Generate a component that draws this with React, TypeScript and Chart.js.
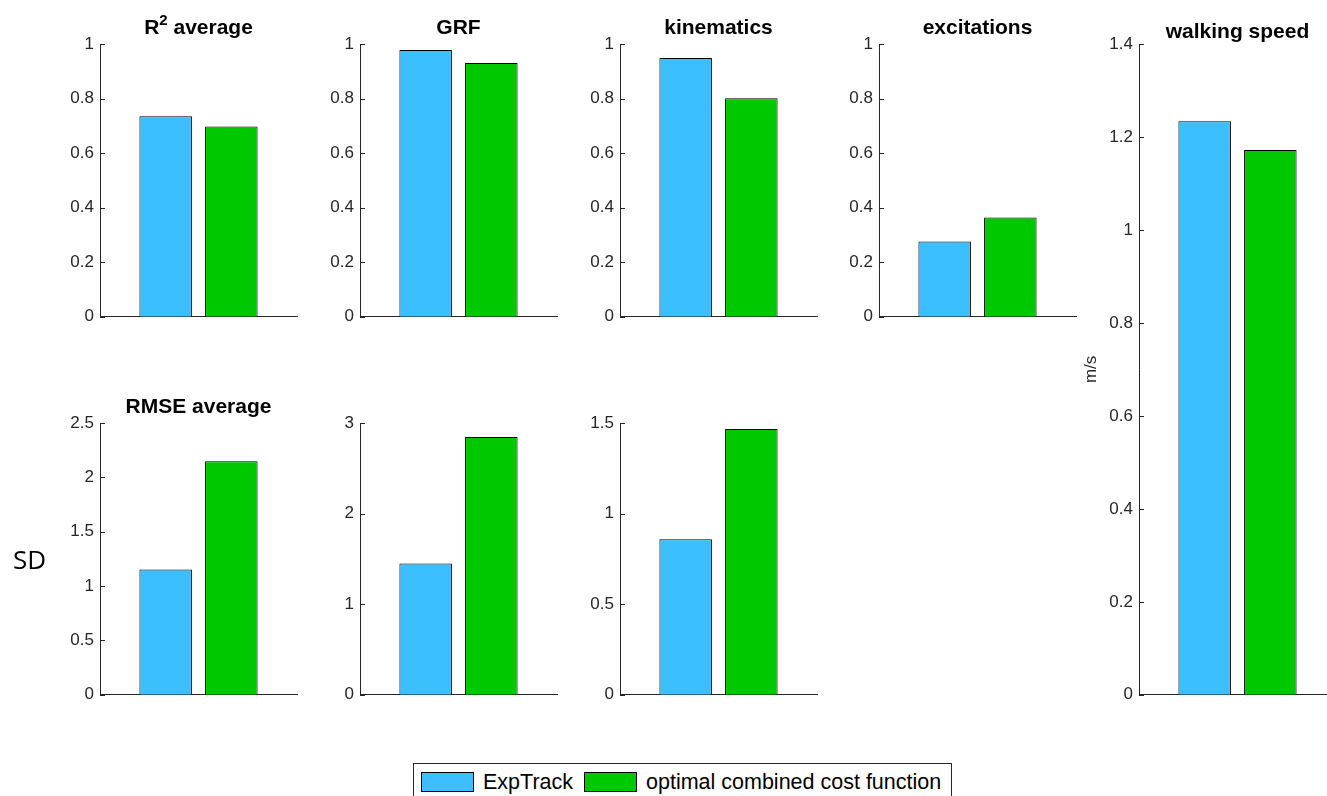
import React, { useEffect, useRef } from 'react';
import { Chart, registerables } from 'chart.js';

Chart.register(...registerables);

// ---------- data ----------
const seriesLabels = ['ExpTrack', 'optimal combined cost function'];
const barPositions = [1, 2];

const r2AverageValues = [0.735, 0.698];
const grfR2Values = [0.978, 0.93];
const kinematicsR2Values = [0.949, 0.801];
const excitationsR2Values = [0.276, 0.364];
const walkingSpeedValues = [1.234, 1.172];
const rmseAverageValues = [1.153, 2.149];
const grfRmseValues = [1.45, 2.845];
const kinematicsRmseValues = [0.858, 1.467];

const r2Ticks = [0, 0.2, 0.4, 0.6, 0.8, 1];
const speedTicks = [0, 0.2, 0.4, 0.6, 0.8, 1, 1.2, 1.4];
const rmseAverageTicks = [0, 0.5, 1, 1.5, 2, 2.5];
const grfRmseTicks = [0, 1, 2, 3];
const kinematicsRmseTicks = [0, 0.5, 1, 1.5];

// ---------- style ----------
const COLORS = ['#3bbfff', '#00c800'];
const AXIS_COLOR = '#262626';
const FONT = '"Liberation Sans", Arial, Helvetica, sans-serif';
const TICK_SIZE = 17;
const TITLE_SIZE = 21;
const AXIS_W = 60;
const PAD_TOP = 44;
const PAD_BOTTOM = 14;
const PAD_RIGHT = 2;
const PLOT_W = 197;
const EXTRA_H = 3;

type Seg = { text: string; sup?: boolean };

interface PanelProps {
  left: number;
  top: number;
  plotH: number;
  values: number[];
  ticks: number[];
  title?: Seg[];
  titleGap?: number;
  yTitle?: string;
}

function Panel(p: PanelProps) {
  const ref = useRef<HTMLCanvasElement>(null);
  const cw = AXIS_W + PLOT_W + PAD_RIGHT;
  const ch = PAD_TOP + p.plotH + PAD_BOTTOM + EXTRA_H;

  useEffect(() => {
    const titlePlugin = {
      id: 'panelTitle',
      afterDraw(chart: any) {
        if (!p.title) return;
        const ctx = chart.ctx as CanvasRenderingContext2D;
        const { left, right, top } = chart.chartArea;
        const mainFont = `bold ${TITLE_SIZE}px ${FONT}`;
        const supFont = `bold ${Math.round(TITLE_SIZE * 0.7)}px ${FONT}`;
        ctx.save();
        let total = 0;
        const widths = p.title.map((s) => {
          ctx.font = s.sup ? supFont : mainFont;
          const w = ctx.measureText(s.text).width;
          total += w;
          return w;
        });
        let x = (left + right) / 2 - total / 2;
        const baseY = top - (p.titleGap ?? 10);
        ctx.fillStyle = '#000';
        ctx.textAlign = 'left';
        ctx.textBaseline = 'alphabetic';
        p.title.forEach((s, i) => {
          ctx.font = s.sup ? supFont : mainFont;
          ctx.fillText(s.text, x, s.sup ? baseY - TITLE_SIZE * 0.42 : baseY);
          x += widths[i];
        });
        ctx.restore();
      },
    };

    const inwardTicks = {
      id: 'inwardTicks',
      afterDraw(chart: any) {
        const s = chart.scales.y;
        const ctx = chart.ctx as CanvasRenderingContext2D;
        const x0 = Math.round(chart.chartArea.left);
        ctx.save();
        ctx.strokeStyle = AXIS_COLOR;
        ctx.lineWidth = 1;
        ctx.beginPath();
        s.ticks.forEach((t: any) => {
          const y = Math.round(s.getPixelForValue(t.value)) + 0.5;
          ctx.moveTo(x0, y);
          ctx.lineTo(x0 + 5, y);
        });
        ctx.stroke();
        ctx.restore();
      },
    };

    const yMax = p.ticks[p.ticks.length - 1];
    const chart = new Chart(ref.current as HTMLCanvasElement, {
      type: 'bar',
      data: {
        datasets: seriesLabels.map((label, i) => ({
          label,
          data: [{ x: barPositions[i], y: p.values[i] }],
          backgroundColor: COLORS[i],
          borderColor: '#000',
          borderWidth: 1,
          borderSkipped: 'start',
          grouped: false,
          barPercentage: 1,
          categoryPercentage: 0.8,
        })),
      } as any,
      options: {
        animation: false,
        responsive: false,
        maintainAspectRatio: false,
        devicePixelRatio: 1,
        layout: { padding: { top: PAD_TOP, bottom: PAD_BOTTOM, left: 0, right: PAD_RIGHT } },
        plugins: {
          legend: { display: false },
          tooltip: { enabled: false },
          title: { display: false },
        },
        scales: {
          x: {
            type: 'linear',
            min: 0,
            max: 3,
            offset: false,
            ticks: { display: false, stepSize: 1 },
            grid: { display: false },
            border: { display: true, color: AXIS_COLOR, width: 1 },
            afterFit: (s: any) => {
              s.height = 0;
            },
          },
          y: {
            type: 'linear',
            min: 0,
            max: yMax,
            afterBuildTicks: (s: any) => {
              s.ticks = p.ticks.map((v) => ({ value: v }));
            },
            ticks: {
              callback: (v: any) => String(v),
              color: AXIS_COLOR,
              font: { family: FONT, size: TICK_SIZE },
              padding: 6,
            },
            grid: { display: false, drawTicks: false },
            border: { display: true, color: AXIS_COLOR, width: 1 },
            title: p.yTitle
              ? {
                  display: true,
                  text: p.yTitle,
                  color: AXIS_COLOR,
                  font: { family: FONT, size: TICK_SIZE },
                  padding: { top: 2, bottom: 0 },
                }
              : { display: false },
            afterFit: (s: any) => {
              s.width = AXIS_W;
            },
          },
        },
      } as any,
      plugins: [titlePlugin, inwardTicks],
    });
    return () => chart.destroy();
  }, []);

  return (
    <canvas
      ref={ref}
      width={cw}
      height={ch}
      style={{
        position: 'absolute',
        left: p.left - AXIS_W,
        top: p.top - PAD_TOP,
        width: cw,
        height: ch,
      }}
    />
  );
}

function Swatch({ color }: { color: string }) {
  return (
    <span
      style={{
        display: 'inline-block',
        width: 51,
        height: 18,
        background: color,
        border: '1px solid #000',
        marginRight: 9,
      }}
    />
  );
}

export default function App() {
  return (
    <div
      style={{
        position: 'absolute',
        left: 0,
        top: 0,
        width: 1327,
        height: 796,
        overflow: 'hidden',
        background: '#fff',
      }}
    >
      <Panel left={100} top={44} plotH={272} values={r2AverageValues} ticks={r2Ticks}
        title={[{ text: 'R' }, { text: '2', sup: true }, { text: ' average' }]} />
      <Panel left={360} top={44} plotH={272} values={grfR2Values} ticks={r2Ticks} title={[{ text: 'GRF' }]} />
      <Panel left={620} top={44} plotH={272} values={kinematicsR2Values} ticks={r2Ticks} title={[{ text: 'kinematics' }]} />
      <Panel left={879} top={44} plotH={272} values={excitationsR2Values} ticks={r2Ticks} title={[{ text: 'excitations' }]} />
      <Panel left={1139} top={44} plotH={650} values={walkingSpeedValues} ticks={speedTicks}
        title={[{ text: 'walking speed' }]} titleGap={6} yTitle="m/s" />
      <Panel left={100} top={423} plotH={271} values={rmseAverageValues} ticks={rmseAverageTicks}
        title={[{ text: 'RMSE average' }]} titleGap={10} />
      <Panel left={360} top={423} plotH={271} values={grfRmseValues} ticks={grfRmseTicks} />
      <Panel left={620} top={423} plotH={271} values={kinematicsRmseValues} ticks={kinematicsRmseTicks} />

      <div
        style={{
          position: 'absolute',
          left: 13,
          top: 546,
          fontFamily: '"Open Sans", sans-serif',
          fontSize: 26,
          lineHeight: 1,
          color: '#000',
        }}
      >
        SD
      </div>

      <div
        style={{
          position: 'absolute',
          left: 413,
          top: 763,
          width: 539,
          height: 40,
          border: '1px solid #262626',
          background: '#fff',
          boxSizing: 'border-box',
          display: 'flex',
          alignItems: 'flex-start',
          paddingLeft: 7,
          paddingTop: 8,
          fontFamily: FONT,
          fontSize: 21.5,
          lineHeight: '20px',
          color: '#000',
          whiteSpace: 'nowrap',
        }}
      >
        <Swatch color={COLORS[0]} />
        <span style={{ marginRight: 11 }}>{seriesLabels[0]}</span>
        <Swatch color={COLORS[1]} />
        <span>{seriesLabels[1]}</span>
      </div>
    </div>
  );
}
